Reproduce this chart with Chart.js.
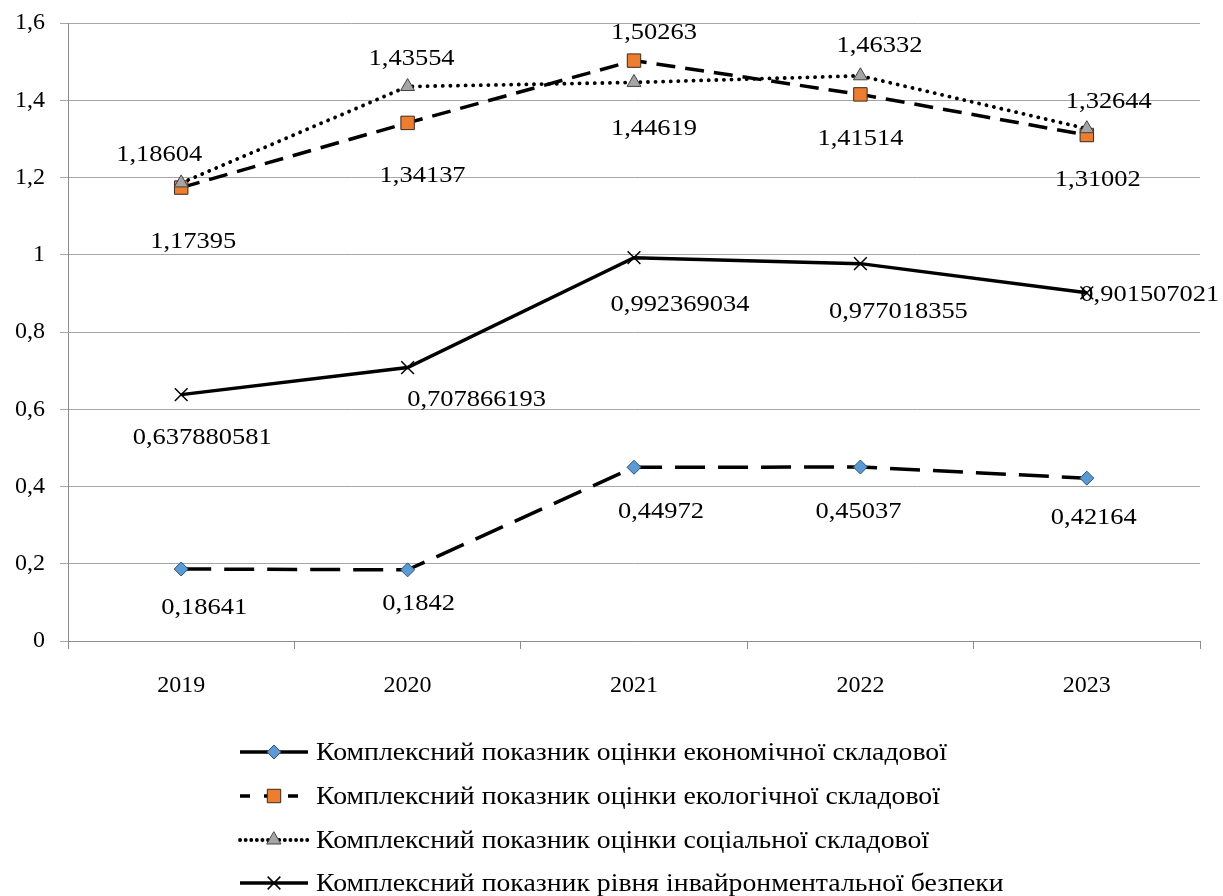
<!DOCTYPE html>
<html lang="uk">
<head>
<meta charset="utf-8">
<title>Комплексні показники 2019–2023</title>
<script src="https://cdn.jsdelivr.net/npm/chart.js@4.4.1/dist/chart.umd.min.js"></script>
<style>
  html, body { margin: 0; padding: 0; background: #fff; }
  #wrap { width: 1223px; height: 896px; position: relative; }
</style>
</head>
<body>
<div id="wrap"><canvas id="indexChart"></canvas></div>
<script>
const years = ['2019', '2020', '2021', '2022', '2023'];
const economic = [0.18641, 0.1842, 0.44972, 0.45037, 0.42164];
const ecological = [1.17395, 1.34137, 1.50263, 1.41514, 1.31002];
const social = [1.18604, 1.43554, 1.44619, 1.46332, 1.32644];
const overall = [0.637880581, 0.707866193, 0.992369034, 0.977018355, 0.901507021];
const yTicks = [0, 0.2, 0.4, 0.6, 0.8, 1, 1.2, 1.4, 1.6];
const seriesNames = [
    'Комплексний показник оцінки економічної складової',
    'Комплексний показник оцінки екологічної складової',
    'Комплексний показник оцінки соціальної складової',
    'Комплексний показник рівня інвайронментальної безпеки'
];

const FONT = '"Liberation Serif", "Times New Roman", serif';

// where each value label sits relative to its point (px)
const labelShift = [
    [[23, 39], [11, 34], [27, 45], [-2, 45], [7, 40]],
    [[12, 54], [15, 53], [20, -28], [0, 45], [11, 45]],
    [[-22, -28], [4, -28], [20, 47], [19, -30], [22, -27]],
    [[21, 43], [69, 32], [46, 47], [38, 48], [63, 2]]
];

function commaNum(v) {
    return String(v).replace('.', ',');
}

// the source picture has its text a bit wider than plain Times
function wideText(ctx, txt, x, y, k) {
    ctx.save();
    ctx.translate(x, y);
    ctx.scale(k, 1);
    ctx.fillText(txt, 0, 0);
    ctx.restore();
}

const valueLabels = {
    id: 'valueLabels',
    afterDatasetsDraw(chart) {
        const ctx = chart.ctx;
        ctx.save();
        ctx.font = '23px ' + FONT;
        ctx.fillStyle = '#000';
        ctx.textAlign = 'center';
        ctx.textBaseline = 'middle';
        chart.data.datasets.forEach((ds, i) => {
            chart.getDatasetMeta(i).data.forEach((pt, j) => {
                const s = labelShift[i][j];
                wideText(ctx, commaNum(ds.data[j]), pt.x + s[0], pt.y + s[1], 1.15);
            });
        });
        ctx.restore();
    }
};

// legend: line sample + marker + text, stacked rows under the axis
const bottomLegend = {
    id: 'bottomLegend',
    afterDraw(chart) {
        const ctx = chart.ctx;
        const x0 = 240, x1 = 308, tx = 316;
        const rows = [752, 796, 840, 883];
        chart.data.datasets.forEach((ds, i) => {
            const y = rows[i];
            ctx.save();
            ctx.strokeStyle = '#000';
            ctx.lineWidth = ds.borderWidth;
            ctx.lineCap = ds.borderCapStyle || 'butt';
            ctx.setLineDash(ds.legendDash || []);
            ctx.beginPath();
            ctx.moveTo(x0, y);
            ctx.lineTo(x1, y);
            ctx.stroke();
            ctx.setLineDash([]);
            ctx.fillStyle = ds.pointBackgroundColor;
            ctx.strokeStyle = ds.pointBorderColor;
            ctx.lineWidth = ds.pointBorderWidth;
            Chart.helpers.drawPoint(ctx, {
                pointStyle: ds.pointStyle,
                radius: ds.pointRadius,
                borderWidth: ds.pointBorderWidth,
                rotation: 0
            }, (x0 + x1) / 2, y);
            ctx.fillStyle = '#000';
            ctx.font = '25px ' + FONT;
            ctx.textAlign = 'left';
            ctx.textBaseline = 'middle';
            wideText(ctx, ds.label, tx, y + 1, 1.11);
            ctx.restore();
        });
    }
};

new Chart(document.getElementById('indexChart'), {
    type: 'line',
    data: {
        labels: years,
        datasets: [{
            label: seriesNames[0],
            data: economic,
            borderColor: '#000',
            borderWidth: 3.5,
            borderDash: [30, 13],
            legendDash: [],
            pointStyle: 'rectRot',
            pointRadius: 7,
            pointBackgroundColor: '#5b9bd5',
            pointBorderColor: '#2f4f6f',
            pointBorderWidth: 1,
            order: 4
        }, {
            label: seriesNames[1],
            data: ecological,
            borderColor: '#000',
            borderWidth: 3.5,
            borderDash: [19, 10],
            legendDash: [10, 14],
            pointStyle: 'rect',
            pointRadius: 9.5,
            pointBackgroundColor: '#ed7d31',
            pointBorderColor: '#3a2a1a',
            pointBorderWidth: 1,
            order: 3
        }, {
            label: seriesNames[2],
            data: social,
            borderColor: '#000',
            borderWidth: 3.8,
            borderDash: [0.1, 7.5],
            legendDash: [0.1, 5.5],
            borderCapStyle: 'round',
            pointStyle: 'triangle',
            pointRadius: 8,
            pointBackgroundColor: '#a5a5a5',
            pointBorderColor: '#404040',
            pointBorderWidth: 1,
            order: 2
        }, {
            label: seriesNames[3],
            data: overall,
            borderColor: '#000',
            borderWidth: 3.5,
            pointStyle: 'crossRot',
            pointRadius: 9,
            pointBackgroundColor: '#000',
            pointBorderColor: '#000',
            pointBorderWidth: 1.5,
            order: 1
        }]
    },
    options: {
        responsive: true,
        maintainAspectRatio: false,
        animation: false,
        layout: { padding: { top: 23, right: 23, left: 0, bottom: 0 } },
        elements: { line: { tension: 0 } },
        plugins: {
            legend: { display: false },
            tooltip: { enabled: false }
        },
        scales: {
            x: {
                offset: true,
                afterFit(scale) { scale.height = 255; },
                grid: {
                    offset: true,
                    drawOnChartArea: false,
                    tickLength: 8,
                    color: '#8c8c8c'
                },
                border: { color: '#8c8c8c' },
                ticks: {
                    color: '#000',
                    padding: 22,
                    font: { family: FONT, size: 24 }
                }
            },
            y: {
                min: 0,
                max: 1.6,
                afterFit(scale) {
                    scale.width = 68;
                    scale.paddingTop = 0;
                },
                afterBuildTicks(scale) {
                    scale.ticks = yTicks.map(v => ({ value: v }));
                },
                grid: { color: '#a6a6a6', tickLength: 8 },
                border: { color: '#8c8c8c' },
                ticks: {
                    color: '#000',
                    padding: 15,
                    font: { family: FONT, size: 24 },
                    callback: v => commaNum(Math.round(v * 10) / 10)
                }
            }
        }
    },
    plugins: [valueLabels, bottomLegend]
});
</script>
</body>
</html>
